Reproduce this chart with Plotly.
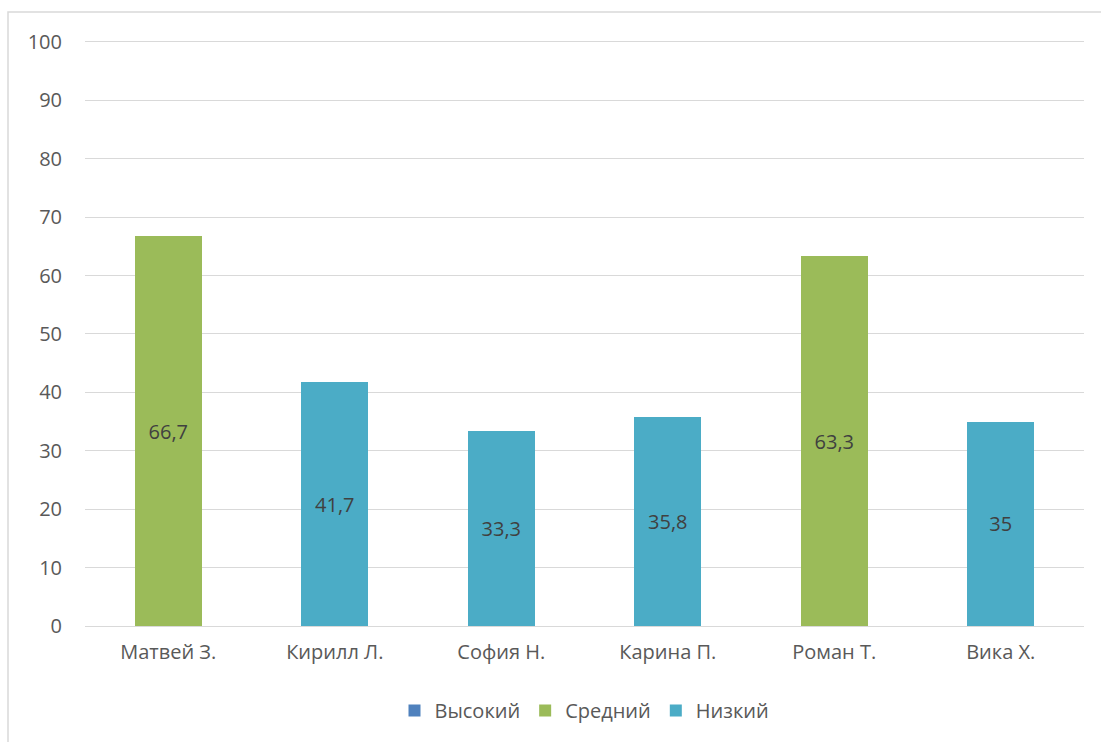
import plotly.graph_objects as go

students = ["Матвей З.", "Кирилл Л.", "София Н.", "Карина П.", "Роман Т.", "Вика Х."]
series_names = ["Высокий", "Средний", "Низкий"]
vysokiy = [None, None, None, None, None, None]
sredniy = [66.7, None, None, None, 63.3, None]
nizkiy = [None, 41.7, 33.3, 35.8, None, 35]
y_ticks = [0, 10, 20, 30, 40, 50, 60, 70, 80, 90, 100]

colors = ["#4F81BD", "#9BBB59", "#4BACC6"]
FONT = "Open Sans"
FS = 20


def fmt(v):
    if v is None:
        return ""
    s = ("%g" % v).replace(".", ",")
    return s


fig = go.Figure()
for name, vals, col in zip(series_names, [vysokiy, sredniy, nizkiy], colors):
    fig.add_trace(go.Bar(
        x=students, y=vals, name=name,
        marker=dict(color=col, line=dict(width=0)),
        text=[fmt(v) for v in vals],
        textposition="inside", insidetextanchor="middle",
        textfont=dict(family=FONT, size=FS, color="#404040"),
        hoverinfo="x+y+name",
    ))

fig.update_layout(
    barmode="stack",
    bargap=0.6,
    width=1101, height=742,
    margin=dict(l=85, r=17, t=36, b=116),
    paper_bgcolor="white", plot_bgcolor="white",
    font=dict(family=FONT, size=FS, color="#595959"),
    showlegend=True,
    legend=dict(orientation="h", x=0.5, xanchor="center", y=-0.11, yanchor="top",
                font=dict(family=FONT, size=FS, color="#595959"),
                traceorder="normal", itemwidth=30),
    uniformtext=dict(minsize=10, mode="show"),
    separators=", ",
)
fig.update_yaxes(range=[0, 101], tickvals=y_ticks, showgrid=True, gridcolor="#D9D9D9",
                 gridwidth=1, zeroline=False, showline=False, ticks="",
                 ticklabelstandoff=22,
                 tickfont=dict(family=FONT, size=FS, color="#595959"))
fig.update_xaxes(showline=True, linecolor="#D9D9D9", linewidth=1, ticks="",
                 tickfont=dict(family=FONT, size=FS, color="#595959"),
                 ticklabelstandoff=8)

fig.add_shape(type="rect", xref="paper", yref="paper",
              x0=(8 - 85) / 999, x1=1.1, y0=-0.4, y1=614 / 590,
              line=dict(color="#D9D9D9", width=1.5), fillcolor="rgba(0,0,0,0)",
              layer="below")

fig.write_html("out.html")
